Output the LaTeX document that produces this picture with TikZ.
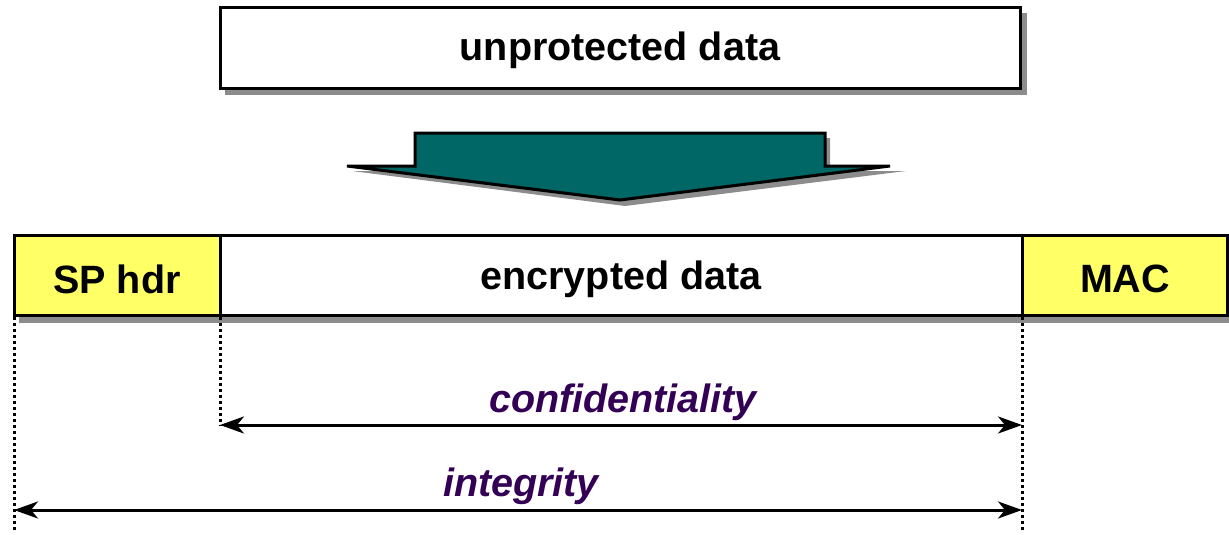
\documentclass[tikz,border=0pt]{standalone}
\usepackage{fontspec}
\setmainfont{Liberation Sans}
\usetikzlibrary{arrows.meta}
\definecolor{teal6}{RGB}{0,102,102}
\definecolor{yel}{RGB}{255,255,102}
\definecolor{purp}{RGB}{51,0,85}
\definecolor{shad}{RGB}{140,140,140}
\begin{document}
\begin{tikzpicture}[x=1pt,y=-1pt,
  box/.style={draw=black,line width=3pt,fill=white},
  lbl/.style={font=\fontsize{39.5}{44}\selectfont\bfseries},
  ilbl/.style={font=\fontsize{39.5}{44}\selectfont\bfseries\itshape,text=purp},
  dim/.style={line width=3pt,{Stealth[length=24pt,width=17pt,inset=7pt]}-{Stealth[length=24pt,width=17pt,inset=7pt]}},
  guide/.style={line width=3pt,dash pattern=on 3pt off 3pt}]
\useasboundingbox (0,0) rectangle (1229,535);
% top box
\fill[shad] (225,13) rectangle (1027,95);
\draw[box] (220,8) rectangle (1020,88);
\node[lbl] (up) at (620,50) {unprotected data};
% big arrow
\fill[shad] (352,171) -- (420,171) -- (420,138) -- (830,138) -- (830,171) -- (906,171) -- (625,206) -- cycle;
\draw[line width=3pt,fill=teal6] (347,166) -- (415,166) -- (415,133) -- (825,133) -- (825,166) -- (890,166) -- (620,200) -- cycle;
% bottom shadow
\fill[shad] (19,315) rectangle (1229,323);
% bottom boxes
\draw[box,fill=yel] (14,235) rectangle (220,315);
\draw[box] (220,235) rectangle (1022,315);
\draw[box,fill=yel] (1022,235) rectangle (1227,315);
\node[lbl] (sp) at (117,279) {SP hdr};
\node[lbl] (enc) at (621,279) {encrypted data};
\node[lbl] (mac) at (1125,279) {MAC};
% guides
\coordinate (g1t) at (14,317);
\coordinate (g1b) at (14,532);
\coordinate (g2t) at (220,317);
\coordinate (g2b) at (220,426);
\coordinate (g3t) at (1022,317);
\coordinate (g3b) at (1022,532);
\draw[guide] (g1t) -- (g1b);
\draw[guide] (g2t) -- (g2b);
\draw[guide] (g3t) -- (g3b);
% dimension arrows
\coordinate (c1) at (220,425);
\coordinate (c2) at (1022,425);
\coordinate (i1) at (14,510);
\coordinate (i2) at (1022,510);
\draw[dim] (c1) -- (c2);
\draw[dim] (i1) -- (i2);
\node[ilbl] (conf) at (623,402) {confidentiality};
\node[ilbl] (integ) at (521,486) {integrity};
\end{tikzpicture}
\end{document}
